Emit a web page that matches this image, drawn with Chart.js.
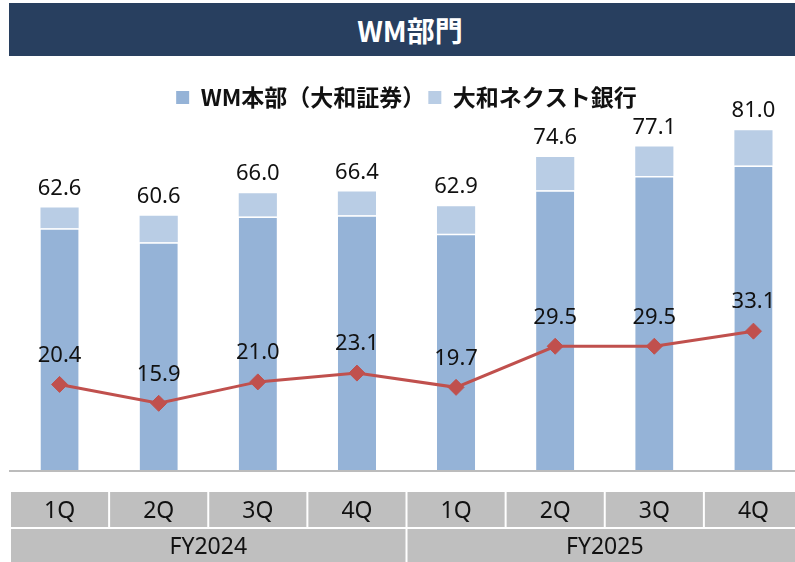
<!DOCTYPE html>
<html>
<head>
<meta charset="utf-8">
<script src="https://cdn.jsdelivr.net/npm/chart.js@4.4.1/dist/chart.umd.min.js"></script>
<style>
  html, body { margin: 0; padding: 0; background: #fff; overflow: hidden; }
  #wrap { position: relative; width: 795px; height: 562px; overflow: hidden; }
  #title {
    position: absolute; left: 9px; top: 3px; width: 786px; height: 53px;
    background: #283F5F; color: #fff; z-index: 2;
    font: bold 28px "Noto Sans CJK JP", sans-serif;
    display: flex; align-items: center; justify-content: center;
    padding-left: 16px; box-sizing: border-box;
  }
  #chart { position: absolute; left: 0; top: 0; }
</style>
</head>
<body>
<div id="wrap">
  <div id="title">WM部門</div>
  <canvas id="chart" width="812" height="562"></canvas>
</div>
<script>
const quarters = ['1Q', '2Q', '3Q', '4Q', '1Q', '2Q', '3Q', '4Q'];
const years = ['FY2024', 'FY2025'];
const wmHonbu = [57.6, 54.3, 60.4, 60.7, 56.3, 66.7, 70.1, 72.6];
const nextBank = [5.0, 6.3, 5.6, 5.7, 6.6, 7.9, 7.0, 8.4];
const lineValues = [20.4, 15.9, 21.0, 23.1, 19.7, 29.5, 29.5, 33.1];
const seriesNames = ['WM本部（大和証券）', '大和ネクスト銀行'];

const labelFont = '22px "Noto Sans", sans-serif';

// value labels above the stacked bars and above the line points
const valueLabels = {
  id: 'valueLabels',
  afterDatasetsDraw(chart) {
    const ctx = chart.ctx;
    ctx.save();
    ctx.font = labelFont;
    ctx.fillStyle = '#111';
    ctx.textAlign = 'center';
    ctx.textBaseline = 'middle';
    const topBars = chart.getDatasetMeta(1).data;
    topBars.forEach((bar, i) => {
      const total = (wmHonbu[i] + nextBank[i]).toFixed(1);
      ctx.fillText(total, bar.x, bar.y - 19);
    });
    chart.getDatasetMeta(2).data.forEach((pt, i) => {
      ctx.fillText(lineValues[i].toFixed(1), pt.x, pt.y - 29);
    });
    ctx.restore();
  }
};

// baseline and the quarter / fiscal year table under the plot
const categoryTable = {
  id: 'categoryTable',
  afterDraw(chart) {
    const ctx = chart.ctx;
    const xs = chart.scales.x;
    const area = chart.chartArea;
    const step = xs.getPixelForValue(1) - xs.getPixelForValue(0);
    ctx.save();
    ctx.strokeStyle = '#A6A6A6';
    ctx.lineWidth = 1.5;
    ctx.beginPath();
    ctx.moveTo(area.left - 1, area.bottom + 1);
    ctx.lineTo(chart.width, area.bottom + 1);
    ctx.stroke();

    ctx.font = '23px "Noto Sans", sans-serif';
    ctx.textAlign = 'center';
    ctx.textBaseline = 'middle';
    quarters.forEach((q, i) => {
      const x0 = xs.getPixelForValue(i) - step / 2;
      ctx.fillStyle = '#BFBFBF';
      ctx.fillRect(x0 + 1, 492, step - 2, 35);
      ctx.fillStyle = '#111';
      ctx.fillText(q, x0 + step / 2, 511);
    });
    const per = quarters.length / years.length;
    years.forEach((y, j) => {
      const x0 = xs.getPixelForValue(j * per) - step / 2;
      const w = step * per;
      ctx.fillStyle = '#BFBFBF';
      ctx.fillRect(x0 + 1, 529, w - 2, 40);
      ctx.fillStyle = '#111';
      ctx.fillText(y, x0 + w / 2, 547);
    });
    ctx.restore();
  }
};

new Chart(document.getElementById('chart'), {
  type: 'bar',
  data: {
    labels: quarters,
    datasets: [
      {
        label: seriesNames[0],
        data: wmHonbu,
        backgroundColor: '#95B3D7',
        borderColor: '#ffffff',
        borderWidth: { top: 1.5, left: 0, right: 0, bottom: 0 },
        borderSkipped: false,
        stack: 'bars',
        order: 1
      },
      {
        label: seriesNames[1],
        data: nextBank,
        backgroundColor: '#B9CDE5',
        borderWidth: 0,
        stack: 'bars',
        order: 1
      },
      {
        type: 'line',
        label: 'line',
        data: lineValues,
        borderColor: '#C0504D',
        backgroundColor: '#C0504D',
        borderWidth: 3,
        pointStyle: 'rectRot',
        pointRadius: 8,
        pointBorderWidth: 1,
        stack: 'line',
        order: 0
      }
    ]
  },
  options: {
    responsive: false,
    animation: false,
    layout: { padding: { top: 83, left: 10, right: 9, bottom: 92 } },
    datasets: { bar: { categoryPercentage: 1, barPercentage: 0.385 } },
    scales: {
      x: { display: false, stacked: true },
      y: { display: false, stacked: true, min: 0, max: 83.67 }
    },
    plugins: {
      tooltip: { enabled: false },
      legend: {
        position: 'top',
        labels: {
          font: { family: '"Noto Sans CJK JP", sans-serif', size: 23, weight: 'bold' },
          color: '#111',
          boxWidth: 13,
          boxHeight: 13,
          padding: 3,
          filter: (item) => item.datasetIndex < 2,
          generateLabels(chart) {
            return Chart.defaults.plugins.legend.labels.generateLabels(chart).map(l => {
              l.lineWidth = 0;
              return l;
            });
          }
        }
      }
    }
  },
  plugins: [valueLabels, categoryTable]
});
</script>
</body>
</html>
